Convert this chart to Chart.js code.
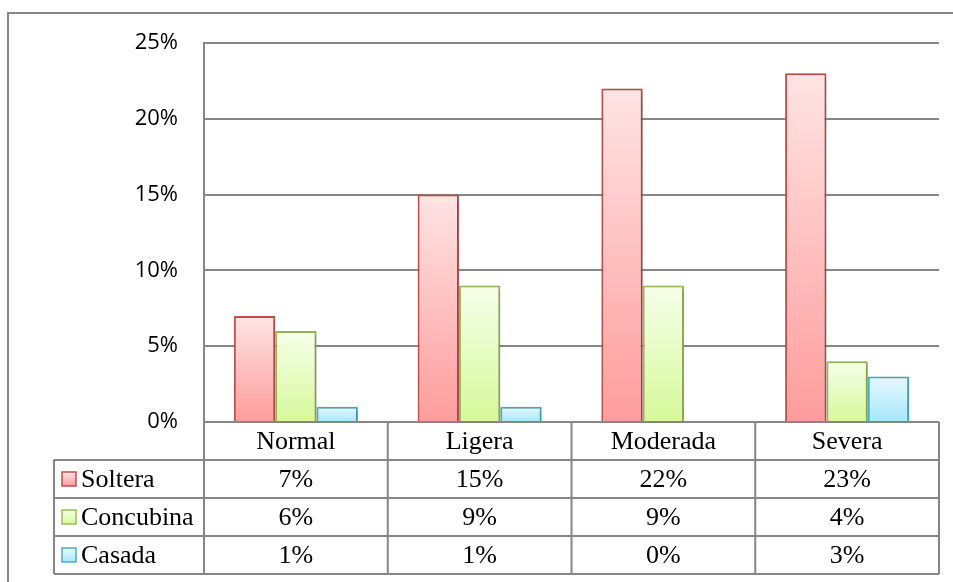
<!DOCTYPE html>
<html>
<head>
<meta charset="utf-8">
<title>Estado civil por nivel</title>
<script src="https://cdn.jsdelivr.net/npm/chart.js@4.4.1/dist/chart.umd.min.js"></script>
<style>
  html, body { margin: 0; padding: 0; background: #fff; }
  canvas { display: block; }
</style>
</head>
<body>
<canvas id="chart" width="953" height="582"></canvas>
<script>
// Data
const categories = ['Normal', 'Ligera', 'Moderada', 'Severa'];
const soltera = [7, 15, 22, 23];
const concubina = [6, 9, 9, 4];
const casada = [1, 1, 0, 3];
const yTicks = [0, 5, 10, 15, 20, 25];

const LINE = '#868686';
const TABLE_FONT = '26px "Liberation Serif", "Times New Roman", serif';

// Per-bar vertical gradient, light at the top and darker at the base
function barGradient(top, bottom) {
    return function (context) {
        const chart = context.chart;
        if (!chart.chartArea || context.raw === undefined) return bottom;
        const y = chart.scales.y;
        const yTop = y.getPixelForValue(context.raw);
        const yBase = y.getPixelForValue(0);
        if (yBase - yTop < 1) return bottom;
        const g = chart.ctx.createLinearGradient(0, yTop, 0, yBase);
        g.addColorStop(0, top);
        g.addColorStop(1, bottom);
        return g;
    };
}

const series = [
    { label: 'Soltera', data: soltera, border: '#c0504d', top: '#ffe4e4', bottom: '#ff9c9c' },
    { label: 'Concubina', data: concubina, border: '#9bbb59', top: '#f6ffea', bottom: '#d6f99a' },
    { label: 'Casada', data: casada, border: '#4bacc6', top: '#e6f9ff', bottom: '#a6e6fb' }
];

// Soft drop shadow under the bars
const barShadow = {
    id: 'barShadow',
    beforeDatasetsDraw(chart) {
        const ctx = chart.ctx;
        ctx.save();
        ctx.shadowColor = 'rgba(0, 0, 0, 0.22)';
        ctx.shadowBlur = 5;
        ctx.shadowOffsetX = 2;
        ctx.shadowOffsetY = 1;
    },
    afterDatasetsDraw(chart) {
        chart.ctx.restore();
    }
};

// Data table under the plot plus the outer frame
const dataTable = {
    id: 'dataTable',
    afterDraw(chart) {
        const ctx = chart.ctx;
        const area = chart.chartArea;
        const rowH = 38;
        const legendLeft = 54;
        const top = area.bottom;
        const colW = (area.right - area.left) / categories.length;
        const bottom = top + rowH * 4;

        ctx.save();
        ctx.strokeStyle = LINE;
        ctx.lineWidth = 2;

        // horizontal rules
        ctx.beginPath();
        ctx.moveTo(area.left, top);
        ctx.lineTo(area.right, top);
        for (let r = 1; r <= 4; r++) {
            ctx.moveTo(legendLeft, top + rowH * r);
            ctx.lineTo(area.right, top + rowH * r);
        }
        // vertical rules
        ctx.moveTo(legendLeft, top + rowH);
        ctx.lineTo(legendLeft, bottom);
        for (let c = 0; c <= categories.length; c++) {
            const x = area.left + colW * c;
            ctx.moveTo(x, top);
            ctx.lineTo(x, bottom);
        }
        ctx.stroke();

        // header and values
        ctx.fillStyle = '#000';
        ctx.font = TABLE_FONT;
        ctx.textAlign = 'center';
        ctx.textBaseline = 'middle';
        categories.forEach((cat, i) => {
            const cx = chart.scales.x.getPixelForValue(i);
            ctx.fillText(cat, cx, top + rowH / 2 + 1);
            series.forEach((s, j) => {
                ctx.fillText(s.data[i] + '%', cx, top + rowH * (j + 1.5) + 1);
            });
        });

        // legend keys
        ctx.textAlign = 'left';
        series.forEach((s, j) => {
            const cy = top + rowH * (j + 1.5);
            const g = ctx.createLinearGradient(0, cy - 7, 0, cy + 7);
            g.addColorStop(0, s.top);
            g.addColorStop(1, s.bottom);
            ctx.fillStyle = g;
            ctx.fillRect(62, cy - 7, 14, 14);
            ctx.strokeStyle = s.border;
            ctx.lineWidth = 1.5;
            ctx.strokeRect(62, cy - 7, 14, 14);
            ctx.fillStyle = '#000';
            ctx.fillText(s.label, 81, cy + 1);
        });

        // outer frame (top and left edges)
        ctx.strokeStyle = LINE;
        ctx.lineWidth = 2;
        ctx.beginPath();
        ctx.moveTo(8, chart.height);
        ctx.lineTo(8, 13);
        ctx.lineTo(chart.width, 13);
        ctx.stroke();
        ctx.restore();
    }
};

const ctx = document.getElementById('chart').getContext('2d');
new Chart(ctx, {
    type: 'bar',
    data: {
        labels: categories,
        datasets: series.map(s => ({
            label: s.label,
            data: s.data,
            backgroundColor: barGradient(s.top, s.bottom),
            borderColor: s.border,
            borderWidth: 2,
            borderSkipped: 'bottom'
        }))
    },
    options: {
        responsive: false,
        animation: false,
        events: [],
        categoryPercentage: 0.675,
        barPercentage: 1,
        layout: {
            padding: { top: 43, right: 14, bottom: 160, left: 0 }
        },
        plugins: {
            legend: { display: false },
            tooltip: { enabled: false }
        },
        scales: {
            x: { display: false },
            y: {
                min: 0,
                max: 25,
                afterFit(scale) { scale.width = 204; },
                afterBuildTicks(scale) { scale.ticks = yTicks.map(v => ({ value: v })); },
                border: { display: true, color: LINE, width: 2 },
                grid: { color: LINE, lineWidth: 2, drawTicks: false },
                ticks: {
                    padding: 26,
                    color: '#000',
                    font: { family: '"Open Sans", sans-serif', size: 22 },
                    callback: v => v + '%'
                }
            }
        }
    },
    plugins: [barShadow, dataTable]
});
</script>
</body>
</html>
